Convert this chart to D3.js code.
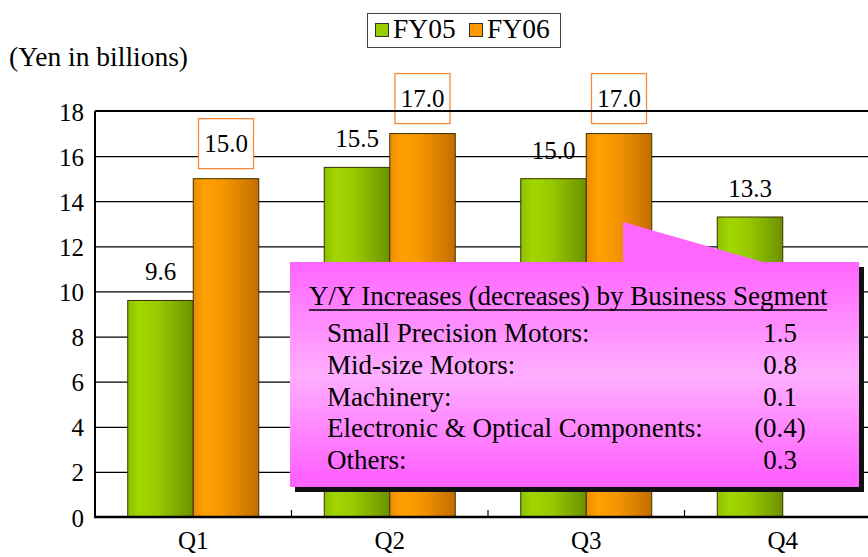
<!DOCTYPE html>
<html>
<head>
<meta charset="utf-8">
<script src="https://cdn.jsdelivr.net/npm/d3@7"></script>
<style>
  body { margin: 0; background: #fff; }
  text { font-family: "Times New Roman", "Liberation Serif", serif; fill: #000; }
</style>
</head>
<body>
<script>
// chart data
var quarters = ["Q1", "Q2", "Q3", "Q4"];
var series = ["FY05", "FY06"];
var fy05 = [9.6, 15.5, 15.0, 13.3];
var fy06 = [15.0, 17.0, 17.0, null];
var yTicks = [0, 2, 4, 6, 8, 10, 12, 14, 16, 18];
var segments = ["Small Precision Motors:", "Mid-size Motors:", "Machinery:",
                "Electronic & Optical Components:", "Others:"];
var segmentValues = ["1.5", "0.8", "0.1", "(0.4)", "0.3"];

var width = 868, height = 557;
var plotLeft = 95, plotRight = 881, plotTop = 111, plotBottom = 517;

var svg = d3.select("body").append("svg")
    .attr("width", width)
    .attr("height", height);

var defs = svg.append("defs");

function barGrad(id, stops) {
  var g = defs.append("linearGradient").attr("id", id)
      .attr("x1", "0%").attr("x2", "100%").attr("y1", "0%").attr("y2", "0%");
  stops.forEach(function(s) {
    g.append("stop").attr("offset", s[0]).attr("stop-color", s[1]);
  });
}
barGrad("gGreen", [["0%", "#8cc200"], ["18%", "#a2d600"], ["45%", "#98cb00"], ["100%", "#6c9200"]]);
barGrad("gOrange", [["0%", "#ec8c00"], ["18%", "#ffa000"], ["45%", "#f79600"], ["100%", "#c26e00"]]);

var pg = defs.append("linearGradient").attr("id", "gPink")
    .attr("x1", "0%").attr("x2", "0%").attr("y1", "0%").attr("y2", "100%");
[["0%", "#ff66ff"], ["16%", "#ff66ff"], ["58%", "#ffaeff"], ["96%", "#ff63ff"]].forEach(function(s) {
  pg.append("stop").attr("offset", s[0]).attr("stop-color", s[1]);
});

var x = d3.scaleBand().domain(quarters).range([plotLeft, plotRight])
    .paddingInner(1 / 3).paddingOuter(1 / 6);
var x1 = d3.scaleBand().domain(series).range([0, x.bandwidth()]);
var y = d3.scaleLinear().domain([0, 18]).range([plotBottom, plotTop]);

// gridlines
svg.append("g")
    .attr("transform", "translate(" + plotLeft + ",0)")
    .call(d3.axisLeft(y).tickValues(yTicks).tickSize(-(plotRight - plotLeft)).tickFormat(""))
    .call(function(g) {
      g.select(".domain").remove();
      g.selectAll("line").attr("stroke", "#000").attr("stroke-width", 1.2);
    });

// y tick labels
svg.append("g")
    .attr("transform", "translate(" + (plotLeft - 11) + ",0)")
    .call(d3.axisLeft(y).tickValues(yTicks).tickSize(0).tickPadding(0))
    .call(function(g) {
      g.select(".domain").remove();
      g.selectAll("text").attr("font-size", 25)
        .attr("font-family", "'Times New Roman', 'Liberation Serif', serif")
        .attr("dy", "0.36em");
    });

// bars
var rows = quarters.map(function(q, i) {
  return [{q: q, s: "FY05", v: fy05[i]}, {q: q, s: "FY06", v: fy06[i]}];
});

var groups = svg.append("g").selectAll("g")
    .data(rows).join("g")
    .attr("transform", function(d) { return "translate(" + x(d[0].q) + ",0)"; });

groups.selectAll("rect")
    .data(function(d) { return d.filter(function(e) { return e.v != null; }); })
    .join("rect")
    .attr("x", function(d) { return x1(d.s); })
    .attr("y", function(d) { return y(d.v); })
    .attr("width", x1.bandwidth())
    .attr("height", function(d) { return y(0) - y(d.v); })
    .attr("fill", function(d) { return d.s == "FY05" ? "url(#gGreen)" : "url(#gOrange)"; })
    .attr("stroke", "#3a3000")
    .attr("stroke-width", 1);

// value labels; FY06 ones sit in an orange box
groups.each(function(d) {
  var g = d3.select(this);
  var a = d[0], b = d[1];
  g.append("text")
    .attr("x", x1(a.s) + x1.bandwidth() / 2)
    .attr("y", y(a.v) - 20)
    .attr("text-anchor", "middle")
    .attr("font-size", 25)
    .text(a.v.toFixed(1));
  if (b.v != null) {
    var cx = x1(b.s) + x1.bandwidth() / 2;
    g.append("rect")
      .attr("x", cx - 27.5)
      .attr("y", y(b.v) - 60)
      .attr("width", 55)
      .attr("height", 50)
      .attr("fill", "#fff")
      .attr("stroke", "#f7883c")
      .attr("stroke-width", 1.3);
    g.append("text")
      .attr("x", cx)
      .attr("y", y(b.v) - 27)
      .attr("text-anchor", "middle")
      .attr("font-size", 25)
      .text(b.v.toFixed(1));
  }
});

// axes lines
svg.append("line").attr("x1", plotLeft).attr("x2", plotLeft).attr("y1", plotTop).attr("y2", plotBottom)
    .attr("stroke", "#000").attr("stroke-width", 2);
svg.append("line").attr("x1", plotLeft).attr("x2", plotRight).attr("y1", y(18)).attr("y2", y(18))
    .attr("stroke", "#000").attr("stroke-width", 2);
svg.append("line").attr("x1", plotLeft - 1).attr("x2", plotRight).attr("y1", plotBottom).attr("y2", plotBottom)
    .attr("stroke", "#000").attr("stroke-width", 2.5);

// x ticks between categories
var gap = x.step() * x.paddingInner();
svg.append("g").selectAll("line")
    .data(quarters.slice(1)).join("line")
    .attr("x1", function(d) { return x(d) - gap / 2; })
    .attr("x2", function(d) { return x(d) - gap / 2; })
    .attr("y1", plotBottom).attr("y2", plotBottom - 7)
    .attr("stroke", "#000").attr("stroke-width", 1.2);

// x labels
svg.append("g")
    .attr("transform", "translate(0," + plotBottom + ")")
    .call(d3.axisBottom(x).tickSize(0).tickPadding(0))
    .call(function(g) {
      g.select(".domain").remove();
      g.selectAll("text").attr("font-size", 25)
        .attr("font-family", "'Times New Roman', 'Liberation Serif', serif")
        .attr("dy", "32");
    });

// unit label
svg.append("text").attr("x", 9).attr("y", 66).attr("font-size", 27.5)
    .text("(Yen in billions)");

// legend
var lg = svg.append("g");
lg.append("rect").attr("x", 367.5).attr("y", 13.5).attr("width", 193).attr("height", 34)
    .attr("fill", "#fff").attr("stroke", "#444").attr("stroke-width", 1);
var lgX = [375, 469];
series.forEach(function(s, i) {
  lg.append("rect").attr("x", lgX[i] + 0.5).attr("y", 23.5).attr("width", 13).attr("height", 13)
    .attr("fill", i == 0 ? "#99cc00" : "#ff9900").attr("stroke", "#333");
  lg.append("text").attr("x", lgX[i] + 18).attr("y", 38).attr("font-size", 27.5).text(s);
});

// callout
var bx0 = 290, bx1 = 859, by0 = 262, by1 = 487;
var callout = svg.append("g");
callout.append("rect").attr("x", bx0 + 5).attr("y", by0 + 5)
    .attr("width", bx1 - bx0).attr("height", by1 - by0).attr("fill", "#111");
callout.append("path")
    .attr("d", "M" + bx0 + "," + by0 + "L623," + by0 + "L623,222L763," + by0 +
               "L" + bx1 + "," + by0 + "L" + bx1 + "," + by1 + "L" + bx0 + "," + by1 + "Z")
    .attr("fill", "url(#gPink)");

callout.append("text").attr("x", 309).attr("y", 305).attr("font-size", 27)
    .text("Y/Y Increases (decreases) by Business Segment");
callout.append("line").attr("x1", 309).attr("x2", 827).attr("y1", 310).attr("y2", 310)
    .attr("stroke", "#000").attr("stroke-width", 1.5);

var rowY = d3.scalePoint().domain(segments).range([342, 469]);
callout.selectAll("text.seg").data(segments).join("text")
    .attr("class", "seg")
    .attr("x", 327).attr("y", function(d) { return rowY(d); })
    .attr("font-size", 27)
    .text(function(d) { return d; });
callout.selectAll("text.val").data(segmentValues).join("text")
    .attr("class", "val")
    .attr("x", 780).attr("y", function(d, i) { return rowY(segments[i]); })
    .attr("text-anchor", "middle")
    .attr("font-size", 27)
    .text(function(d) { return d; });
</script>
</body>
</html>
